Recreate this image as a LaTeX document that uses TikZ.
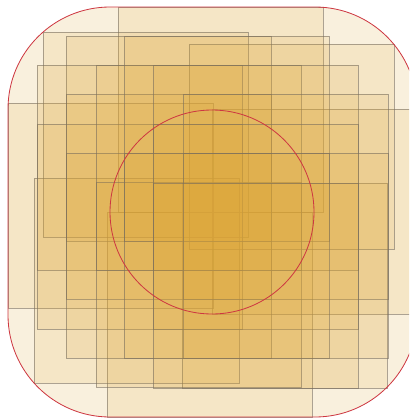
\documentclass[tikz,border=0pt]{standalone}
\definecolor{cropfill}{RGB}{220,166,56}
\definecolor{cropline}{RGB}{120,110,95}
\definecolor{envred}{RGB}{205,55,65}
\begin{document}
\begin{tikzpicture}[x=0.03cm,y=-0.03cm,
  crop/.style={fill=cropfill,fill opacity=0.14,draw=cropline,draw opacity=0.6,line width=0.7pt},
  envelope/.style={draw=envred,line width=0.7pt}]
\def\s{205}
\useasboundingbox (0,0) rectangle (409,420);
\clip (0,0) rectangle (409,420);
\coordinate (ctr) at (212,212);
\fill[cropfill,fill opacity=0.17,rounded corners=3.06cm] (8,7) rectangle (417,417);
% crop windows, top left corners
\foreach \x/\y in {118/7,107/212,8/103,212/109,43/32,34/178,182/183,189/44,
  66/36,37/65,37/124,66/94,66/153,96/182,96/65,124/36,153/65,183/94,
  153/124,183/153,124/153,153/183}
  \draw[crop] (\x,\y) rectangle ++(\s,\s);
\draw[envelope,rounded corners=3.06cm] (8,7) rectangle (417,417);
\draw[envelope] (ctr) circle[radius=102];
\end{tikzpicture}
\end{document}
